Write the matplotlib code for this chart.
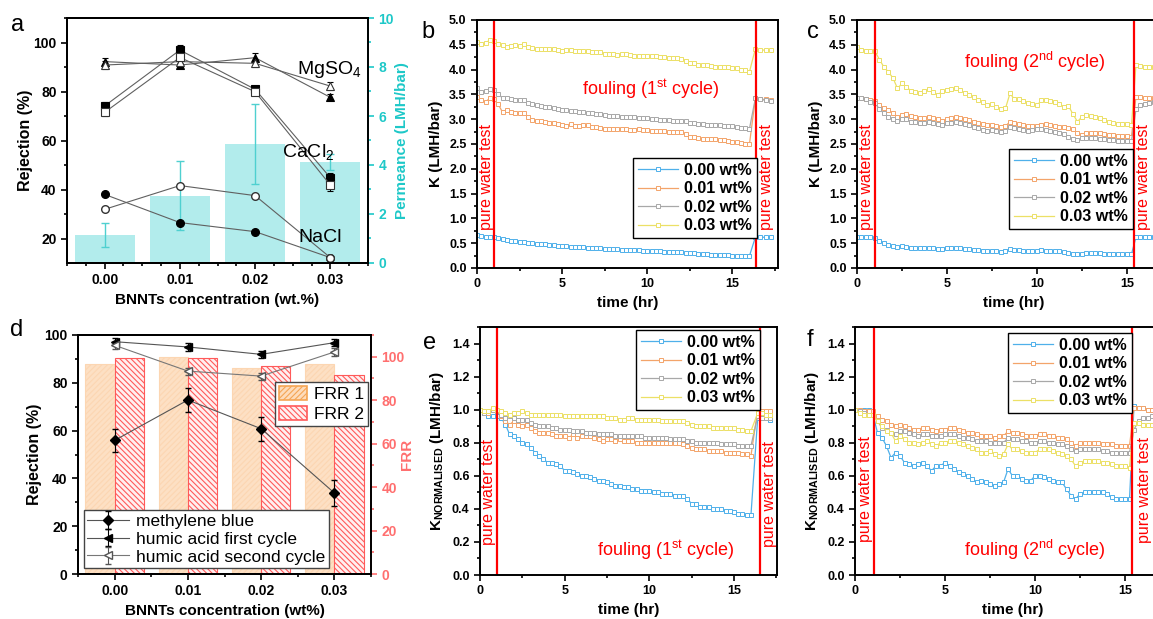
# BNNTs membrane figure: rejection / permeance and fouling curves (a-f)
import numpy as np
import matplotlib
matplotlib.use('Agg')
import matplotlib.pyplot as plt
from matplotlib.ticker import MultipleLocator, FormatStrFormatter
from matplotlib.transforms import blended_transform_factory
from matplotlib.patches import Patch

plt.rcParams['font.family'] = ['Liberation Sans', 'DejaVu Sans']
plt.rcParams['mathtext.fontset'] = 'custom'
plt.rcParams['mathtext.rm'] = 'Liberation Sans'
plt.rcParams['mathtext.bf'] = 'Liberation Sans:bold'
plt.rcParams['mathtext.it'] = 'Liberation Sans:italic'
plt.rcParams['hatch.linewidth'] = 0.8

# ---- panel a ----
conc = [0.00, 0.01, 0.02, 0.03]
conc_labels = ['0.00', '0.01', '0.02', '0.03']
permeance = [1.14, 2.75, 4.86, 4.13]
permeance_err = [0.49, 1.41, 1.65, 0.32]
mgso4_filled = [92.4, 91.0, 94.0, 77.8]
mgso4_filled_err = [1.5, 1.0, 1.8, 1.2]
mgso4_open = [91.0, 92.4, 91.7, 82.4]
mgso4_open_err = [1.5, 1.0, 1.5, 1.5]
cacl2_filled = [74.3, 97.1, 81.1, 45.0]
cacl2_filled_err = [1.8, 2.2, 1.5, 1.8]
cacl2_open = [71.7, 94.1, 80.1, 42.0]
cacl2_open_err = [1.5, 1.5, 1.5, 2.5]
nacl_filled = [38.2, 26.7, 23.0, 12.4]
nacl_open = [32.1, 41.8, 37.7, 12.4]

# ---- panel d ----
mb = [55.9, 72.8, 60.8, 33.9]
mb_err = [4.9, 4.9, 5.0, 5.6]
humic_first = [97.2, 95.0, 91.9, 96.8]
humic_second = [95.7, 84.9, 82.8, 92.9]
humic_err = [1.5, 1.5, 1.5, 1.5]
frr1 = [96.6, 99.7, 94.9, 96.6]
frr2 = [99.5, 99.5, 95.7, 91.8]

labels_wt = ['0.00 wt%', '0.01 wt%', '0.02 wt%', '0.03 wt%']
colors_wt = ['#4fb0ea', '#f3a46a', '#a8a8a8', '#ece066']

# ---- panel b: K (LMH/bar), 1st cycle, every 0.25 hr ----
b_blue = [0.66, 0.64, 0.63, 0.63, 0.62, 0.60, 0.58, 0.56, 0.55, 0.54,
          0.53, 0.52, 0.50, 0.50, 0.49, 0.49, 0.48, 0.47, 0.46, 0.45,
          0.44, 0.44, 0.43, 0.43, 0.42, 0.42, 0.41, 0.41, 0.40, 0.40,
          0.39, 0.39, 0.38, 0.38, 0.37, 0.37, 0.37, 0.36, 0.36, 0.35,
          0.35, 0.35, 0.34, 0.34, 0.33, 0.33, 0.33, 0.32, 0.32, 0.31,
          0.30, 0.30, 0.29, 0.28, 0.28, 0.27, 0.27, 0.27, 0.26, 0.26,
          0.25, 0.25, 0.25, 0.24, 0.24]
b_orange = [3.44, 3.38, 3.35, 3.42, 3.40, 3.30, 3.14, 3.18, 3.15, 3.12,
            3.12, 3.13, 3.05, 2.98, 2.97, 2.96, 2.95, 2.93, 2.93, 2.90,
            2.88, 2.87, 2.91, 2.86, 2.87, 2.88, 2.88, 2.85, 2.84, 2.83,
            2.80, 2.80, 2.80, 2.80, 2.81, 2.80, 2.79, 2.79, 2.80, 2.78,
            2.78, 2.77, 2.77, 2.77, 2.76, 2.75, 2.75, 2.75, 2.74, 2.70,
            2.65, 2.64, 2.62, 2.61, 2.61, 2.60, 2.60, 2.59, 2.58, 2.57,
            2.55, 2.54, 2.52, 2.51, 2.49]
b_gray = [3.62, 3.55, 3.57, 3.60, 3.58, 3.50, 3.43, 3.43, 3.41, 3.39,
          3.38, 3.38, 3.33, 3.30, 3.28, 3.26, 3.25, 3.24, 3.22, 3.21,
          3.18, 3.18, 3.17, 3.16, 3.15, 3.14, 3.13, 3.12, 3.11, 3.10,
          3.08, 3.07, 3.06, 3.06, 3.05, 3.05, 3.05, 3.04, 3.03, 3.02,
          3.02, 3.01, 3.00, 2.99, 2.98, 2.98, 2.97, 2.97, 2.97, 2.96,
          2.93, 2.92, 2.90, 2.90, 2.89, 2.89, 2.88, 2.88, 2.87, 2.87,
          2.86, 2.85, 2.82, 2.82, 2.80]
b_yellow = [4.55, 4.52, 4.53, 4.60, 4.58, 4.52, 4.50, 4.45, 4.48, 4.49,
            4.48, 4.52, 4.45, 4.43, 4.42, 4.41, 4.41, 4.41, 4.42, 4.40,
            4.37, 4.39, 4.40, 4.38, 4.38, 4.38, 4.37, 4.36, 4.35, 4.36,
            4.32, 4.31, 4.31, 4.30, 4.31, 4.31, 4.29, 4.28, 4.28, 4.28,
            4.27, 4.27, 4.27, 4.26, 4.25, 4.24, 4.24, 4.23, 4.22, 4.18,
            4.14, 4.13, 4.10, 4.09, 4.09, 4.07, 4.06, 4.06, 4.05, 4.05,
            4.04, 4.03, 3.99, 3.99, 3.95]
b_post_t = [16.35, 16.65, 16.95, 17.25]
b_post = [[0.62, 0.62, 0.62, 0.62], [3.42, 3.40, 3.40, 3.39],
          [3.42, 3.40, 3.38, 3.36], [4.42, 4.40, 4.39, 4.39]]

# ---- panel c: K (LMH/bar), 2nd cycle ----
c_blue = [0.62, 0.62, 0.62, 0.62, 0.60, 0.55, 0.50, 0.47, 0.44, 0.43,
          0.44, 0.43, 0.41, 0.40, 0.40, 0.41, 0.41, 0.40, 0.39, 0.39,
          0.40, 0.40, 0.41, 0.40, 0.39, 0.38, 0.37, 0.36, 0.35, 0.35,
          0.35, 0.34, 0.33, 0.35, 0.38, 0.37, 0.36, 0.35, 0.34, 0.34,
          0.35, 0.36, 0.35, 0.35, 0.34, 0.34, 0.33, 0.31, 0.29, 0.28,
          0.29, 0.30, 0.30, 0.30, 0.30, 0.29, 0.28, 0.28, 0.28, 0.28,
          0.28, 0.28]
c_orange = [3.42, 3.42, 3.40, 3.38, 3.37, 3.28, 3.22, 3.18, 3.12, 3.05,
            3.08, 3.10, 3.07, 3.05, 3.02, 3.02, 3.04, 3.03, 3.00, 2.97,
            3.00, 3.02, 3.05, 3.02, 3.00, 2.98, 2.95, 2.93, 2.90, 2.88,
            2.88, 2.86, 2.85, 2.86, 2.95, 2.92, 2.90, 2.88, 2.86, 2.86,
            2.87, 2.88, 2.90, 2.88, 2.86, 2.85, 2.84, 2.82, 2.80, 2.72,
            2.68, 2.73, 2.73, 2.72, 2.72, 2.70, 2.68, 2.68, 2.66, 2.66,
            2.66, 2.65]
c_gray = [3.42, 3.42, 3.40, 3.35, 3.33, 3.20, 3.12, 3.05, 3.00, 2.97,
          3.00, 3.00, 2.95, 2.94, 2.92, 2.93, 2.95, 2.93, 2.90, 2.88,
          2.92, 2.93, 2.95, 2.92, 2.90, 2.88, 2.85, 2.82, 2.78, 2.77,
          2.78, 2.76, 2.75, 2.77, 2.85, 2.82, 2.80, 2.78, 2.77, 2.78,
          2.80, 2.80, 2.78, 2.76, 2.75, 2.72, 2.70, 2.65, 2.60, 2.58,
          2.62, 2.63, 2.63, 2.62, 2.60, 2.60, 2.59, 2.58, 2.57, 2.57,
          2.56, 2.56]
c_yellow = [4.45, 4.40, 4.38, 4.38, 4.37, 4.20, 4.05, 3.95, 3.83, 3.62,
            3.72, 3.65, 3.57, 3.55, 3.52, 3.57, 3.60, 3.55, 3.49, 3.57,
            3.58, 3.60, 3.62, 3.59, 3.52, 3.48, 3.45, 3.38, 3.35, 3.28,
            3.30, 3.25, 3.20, 3.22, 3.52, 3.40, 3.40, 3.36, 3.32, 3.30,
            3.28, 3.38, 3.38, 3.37, 3.35, 3.30, 3.25, 3.27, 3.10, 2.95,
            3.05, 3.08, 3.06, 3.05, 3.02, 2.98, 2.95, 2.92, 2.91, 2.90,
            2.90, 2.88]
c_post_t = [15.5, 15.75, 16.0, 16.25, 16.5]
c_post = [[0.62, 0.62, 0.62, 0.62, 0.62], [3.45, 3.45, 3.43, 3.42, 3.42],
          [3.20, 3.28, 3.30, 3.32, 3.34], [4.10, 4.08, 4.06, 4.05, 4.05]]

# ---- panel e: normalised K, 1st cycle ----
e_blue = [1.00, 0.98, 0.96, 0.96, 0.96, 0.95, 0.91, 0.85, 0.84, 0.82,
          0.80, 0.79, 0.77, 0.74, 0.72, 0.70, 0.68, 0.68, 0.67, 0.66,
          0.63, 0.63, 0.62, 0.61, 0.60, 0.60, 0.59, 0.58, 0.57, 0.57,
          0.56, 0.55, 0.54, 0.54, 0.53, 0.53, 0.52, 0.52, 0.51, 0.51,
          0.51, 0.50, 0.50, 0.49, 0.49, 0.49, 0.48, 0.48, 0.48, 0.46,
          0.43, 0.43, 0.41, 0.41, 0.41, 0.40, 0.40, 0.40, 0.39, 0.39,
          0.38, 0.37, 0.37, 0.36, 0.36]
e_orange = [1.00, 0.99, 0.98, 1.00, 0.99, 0.96, 0.93, 0.91, 0.93, 0.91,
            0.90, 0.91, 0.89, 0.87, 0.86, 0.86, 0.86, 0.85, 0.84, 0.84,
            0.84, 0.83, 0.85, 0.83, 0.84, 0.84, 0.84, 0.83, 0.82, 0.81,
            0.82, 0.82, 0.81, 0.82, 0.81, 0.81, 0.81, 0.80, 0.80, 0.80,
            0.80, 0.80, 0.80, 0.80, 0.80, 0.80, 0.80, 0.80, 0.79, 0.78,
            0.77, 0.76, 0.76, 0.76, 0.75, 0.75, 0.75, 0.75, 0.74, 0.74,
            0.74, 0.74, 0.73, 0.73, 0.72]
e_gray = [1.00, 0.98, 0.99, 1.00, 0.99, 0.97, 0.95, 0.96, 0.95, 0.94,
          0.94, 0.94, 0.92, 0.91, 0.90, 0.90, 0.90, 0.89, 0.89, 0.88,
          0.88, 0.88, 0.87, 0.87, 0.87, 0.86, 0.86, 0.86, 0.85, 0.85,
          0.85, 0.85, 0.84, 0.84, 0.84, 0.84, 0.84, 0.84, 0.84, 0.83,
          0.83, 0.83, 0.83, 0.83, 0.83, 0.82, 0.82, 0.82, 0.82, 0.81,
          0.81, 0.80, 0.80, 0.80, 0.80, 0.80, 0.80, 0.79, 0.79, 0.79,
          0.79, 0.78, 0.78, 0.78, 0.78]
e_yellow = [1.00, 0.99, 0.99, 1.01, 1.00, 0.99, 0.98, 0.97, 0.98, 0.98,
            0.99, 0.98, 0.97, 0.97, 0.97, 0.97, 0.97, 0.97, 0.97, 0.97,
            0.96, 0.96, 0.96, 0.96, 0.96, 0.96, 0.96, 0.96, 0.96, 0.96,
            0.95, 0.95, 0.95, 0.94, 0.94, 0.95, 0.95, 0.94, 0.94, 0.94,
            0.94, 0.94, 0.94, 0.93, 0.93, 0.93, 0.93, 0.93, 0.93, 0.92,
            0.91, 0.90, 0.90, 0.90, 0.90, 0.89, 0.89, 0.89, 0.89, 0.89,
            0.89, 0.88, 0.88, 0.87, 0.87]
e_post_t = [16.4, 16.65, 16.9, 17.15]
e_post = [[0.95, 0.96, 0.95, 0.94], [1.00, 0.99, 0.99, 0.99],
          [0.96, 0.95, 0.95, 0.95], [0.98, 0.98, 0.97, 0.97]]

# ---- panel f: normalised K, 2nd cycle ----
f_blue = [1.00, 0.99, 1.00, 1.00, 0.97, 0.86, 0.83, 0.78, 0.71, 0.74,
          0.72, 0.68, 0.67, 0.66, 0.67, 0.68, 0.66, 0.63, 0.66, 0.66,
          0.68, 0.66, 0.64, 0.62, 0.61, 0.60, 0.58, 0.56, 0.57, 0.56,
          0.55, 0.54, 0.55, 0.56, 0.64, 0.60, 0.60, 0.58, 0.57, 0.57,
          0.60, 0.60, 0.59, 0.58, 0.57, 0.56, 0.56, 0.52, 0.48, 0.46,
          0.49, 0.50, 0.50, 0.50, 0.50, 0.50, 0.49, 0.47, 0.46, 0.46,
          0.46, 0.46]
f_orange = [1.00, 1.00, 0.99, 0.99, 0.99, 0.96, 0.94, 0.93, 0.91, 0.90,
            0.91, 0.90, 0.89, 0.88, 0.88, 0.89, 0.89, 0.88, 0.87, 0.88,
            0.88, 0.89, 0.89, 0.88, 0.87, 0.86, 0.86, 0.85, 0.84, 0.84,
            0.84, 0.83, 0.84, 0.84, 0.87, 0.86, 0.86, 0.85, 0.84, 0.84,
            0.84, 0.85, 0.85, 0.84, 0.84, 0.83, 0.83, 0.82, 0.80, 0.78,
            0.80, 0.80, 0.80, 0.80, 0.80, 0.79, 0.79, 0.79, 0.78, 0.78,
            0.78, 0.78]
f_gray = [1.00, 0.99, 0.98, 0.97, 0.97, 0.93, 0.89, 0.88, 0.86, 0.85,
          0.87, 0.87, 0.86, 0.85, 0.84, 0.85, 0.85, 0.84, 0.84, 0.84,
          0.85, 0.85, 0.85, 0.84, 0.83, 0.83, 0.82, 0.81, 0.81, 0.81,
          0.80, 0.80, 0.80, 0.80, 0.83, 0.82, 0.82, 0.81, 0.81, 0.80,
          0.80, 0.81, 0.81, 0.80, 0.80, 0.79, 0.79, 0.78, 0.76, 0.75,
          0.76, 0.76, 0.76, 0.76, 0.76, 0.75, 0.75, 0.74, 0.74, 0.74,
          0.74, 0.74]
f_yellow = [1.00, 0.98, 0.97, 0.97, 0.97, 0.93, 0.90, 0.87, 0.86, 0.81,
            0.84, 0.82, 0.80, 0.80, 0.79, 0.80, 0.81, 0.79, 0.78, 0.80,
            0.80, 0.81, 0.81, 0.80, 0.79, 0.78, 0.77, 0.76, 0.74, 0.74,
            0.75, 0.73, 0.72, 0.73, 0.79, 0.76, 0.76, 0.75, 0.74, 0.74,
            0.74, 0.76, 0.76, 0.76, 0.75, 0.74, 0.73, 0.72, 0.70, 0.66,
            0.68, 0.69, 0.69, 0.69, 0.69, 0.68, 0.68, 0.67, 0.66, 0.66,
            0.66, 0.65]
f_post_t = [15.5, 15.75, 16.0, 16.25, 16.5]
f_post = [[1.02, 1.01, 1.01, 1.00, 1.00], [1.01, 1.01, 1.01, 1.00, 1.00],
          [0.88, 0.93, 0.95, 0.95, 0.96], [0.92, 0.92, 0.91, 0.91, 0.91]]

W, H = 1153, 619
fig = plt.figure(figsize=(W / 100, H / 100), dpi=100)


def add_ax(l, t, r, b):
    # axes from pixel box (left, top, right, bottom)
    return fig.add_axes([l / W, 1 - b / H, (r - l) / W, (b - t) / H])


def style(ax, size, right=False):
    for side in ['top', 'right', 'left', 'bottom']:
        ax.spines[side].set_linewidth(1.4)
    ax.tick_params(which='both', direction='out', labelsize=size, width=1.2,
                   top=False, right=right)
    ax.tick_params(which='major', length=4)
    ax.tick_params(which='minor', length=2.5)
    for lab in ax.get_xticklabels() + ax.get_yticklabels():
        lab.set_fontweight('bold')


# ================= a =================
ax = add_ax(67, 18, 368, 263)
ax2 = ax.twinx()
cyan = '#1ec8c8'
ax2.bar(conc, permeance, width=0.008, color='#b2ecec', yerr=permeance_err,
        ecolor='#4fd0d0', capsize=3, error_kw=dict(elinewidth=1, capthick=1))
ax2.set_ylim(0, 10)
ax2.yaxis.set_major_locator(MultipleLocator(2))
ax2.yaxis.set_minor_locator(MultipleLocator(1))
ax2.set_ylabel('Permeance (LMH/bar)', color=cyan, fontsize=11, fontweight='bold',
               labelpad=1)
ax.set_zorder(ax2.get_zorder() + 1)
ax.patch.set_visible(False)

line_kw = dict(color='#606060', lw=0.8, ms=5.5, ecolor='k', elinewidth=0.8,
               capsize=2, mew=0.8)
ax.errorbar(conc, mgso4_filled, yerr=mgso4_filled_err, marker='^', mfc='k', mec='k', **line_kw)
ax.errorbar(conc, mgso4_open, yerr=mgso4_open_err, marker='^', mfc='white', mec='#333333', **line_kw)
ax.errorbar(conc, cacl2_filled, yerr=cacl2_filled_err, marker='s', mfc='k', mec='k', **line_kw)
ax.errorbar(conc, cacl2_open, yerr=cacl2_open_err, marker='s', mfc='white', mec='#333333', **line_kw)
ax.plot(conc, nacl_filled, color='#606060', lw=0.8, marker='o', ms=5.5, mfc='k', mec='k')
ax.plot(conc, nacl_open, color='#606060', lw=0.8, marker='o', ms=5.5, mfc='white', mec='#333333')
ax.text(0.0299, 89, 'MgSO$_4$', fontsize=14, ha='center', va='center')
ax.text(0.0271, 55.5, 'CaCl$_2$', fontsize=14, ha='center', va='center')
ax.text(0.0287, 20.5, 'NaCl', fontsize=14, ha='center', va='center')
ax.set_xlim(-0.005, 0.035)
ax.set_ylim(10.2, 110.2)
ax.set_xticks(conc)
ax.set_xticklabels(conc_labels)
ax.xaxis.set_minor_locator(MultipleLocator(0.0025))
ax.yaxis.set_major_locator(MultipleLocator(20))
ax.yaxis.set_minor_locator(MultipleLocator(10))
ax.set_ylabel('Rejection (%)', fontsize=11.5, fontweight='bold', labelpad=0)
ax.set_xlabel('BNNTs concentration (wt.%)', fontsize=11, fontweight='bold')
style(ax, 10)
style(ax2, 10, right=True)
ax2.tick_params(axis='y', colors=cyan, which='both')
ax2.spines['right'].set_color(cyan)

# ================= d =================
axd = add_ax(78, 335, 371, 574)
axd2 = axd.twinx()
pink = '#ff6f6f'
axd2.bar(conc, frr1, width=-0.004, align='edge', facecolor='#fde0c4',
         edgecolor='#fcd6b2', hatch='//////', lw=0.8)
axd2.bar(conc, frr2, width=0.004, align='edge', facecolor='#fff0f0',
         edgecolor='#ff5a5a', hatch='\\\\\\\\\\\\', lw=0.8)
axd2.set_ylim(0, 110)
axd2.yaxis.set_major_locator(MultipleLocator(20))
axd2.yaxis.set_minor_locator(MultipleLocator(10))
axd2.set_ylabel('FRR', color=pink, fontsize=11, fontweight='bold', labelpad=-3)
frr_handles = [Patch(facecolor='#fddcbc', edgecolor='#f5a554', hatch='//////', lw=1.2),
               Patch(facecolor='#fff0f0', edgecolor='#ff5a5a', hatch='\\\\\\\\\\\\', lw=1.2)]
axd2.legend(frr_handles, ['FRR 1', 'FRR 2'], loc='upper left',
            bbox_to_anchor=(0.672, 0.803), fontsize=12.5,
            frameon=True, fancybox=False, edgecolor='#444444', framealpha=1,
            handlelength=1.6, handleheight=0.8, borderpad=0.25,
            labelspacing=0.25, handletextpad=0.4, borderaxespad=0)
axd.set_zorder(axd2.get_zorder() + 1)
axd.patch.set_visible(False)

axd.errorbar(conc, mb, yerr=mb_err, color='#555555', lw=0.8, marker='D', ms=5,
             mfc='k', mec='k', ecolor='k', elinewidth=0.8, capsize=2,
             label='methylene blue')
axd.errorbar(conc, humic_first, yerr=humic_err, color='#555555', lw=0.8, marker='<',
             ms=6, mfc='k', mec='k', ecolor='k', elinewidth=0.8, capsize=2,
             label='humic acid first cycle')
axd.errorbar(conc, humic_second, yerr=humic_err, color='#777777', lw=0.8, marker='<',
             ms=6, mfc='white', mec='#555555', ecolor='#555555', elinewidth=0.8,
             capsize=2, label='humic acid second cycle')
axd.legend(loc='lower left', bbox_to_anchor=(0.02, 0.025), fontsize=12.5,
           frameon=True, fancybox=False, edgecolor='#444444', framealpha=1,
           handlelength=2.4, borderpad=0.2, labelspacing=0.15, handletextpad=0.4,
           borderaxespad=0)
axd.set_xlim(-0.005, 0.035)
axd.set_ylim(0, 100)
axd.set_xticks(conc)
axd.set_xticklabels(conc_labels)
axd.xaxis.set_minor_locator(MultipleLocator(0.005))
axd.yaxis.set_major_locator(MultipleLocator(20))
axd.yaxis.set_minor_locator(MultipleLocator(10))
axd.set_ylabel('Rejection (%)', fontsize=11.5, fontweight='bold', labelpad=2)
axd.set_xlabel('BNNTs concentration (wt%)', fontsize=11, fontweight='bold')
style(axd, 10)
style(axd2, 10, right=True)
axd2.tick_params(axis='y', colors=pink, which='both')
axd2.spines['right'].set_color(pink)


# ================= b, c, e, f =================
def k_panel(ax, pre, post_t, post, xmax, ymax, ymajor, vlines, fouling,
            fxy, pwt, leg_xy, ylabel):
    for vals, pv, col, lab in zip(pre, post, colors_wt, labels_wt):
        t = list(np.arange(len(vals)) * 0.25) + list(post_t)
        y = list(vals) + list(pv)
        ax.plot(t, y, color=col, lw=0.9, marker='s', ms=2.8, mfc='white',
                mec=col, mew=0.7, label=lab)
    for xv in vlines:
        ax.axvline(xv, color='#ff0000', lw=1.6)
    ax.text(fxy[0], fxy[1], fouling, color='#ff0000', fontsize=13,
            ha='center', va='center')
    trans = blended_transform_factory(ax.transData, ax.transAxes)
    for xv, yb in pwt:
        ax.text(xv, yb, 'pure water test', color='#ff0000', fontsize=11.5,
                rotation=90, ha='center', va='bottom', transform=trans)
    ax.legend(loc='upper left', bbox_to_anchor=leg_xy, frameon=True,
              fancybox=False, edgecolor='black', framealpha=1,
              prop=dict(weight='bold', size=11.5), handlelength=2.5,
              labelspacing=0.22, borderpad=0.3, handletextpad=0.4,
              borderaxespad=0).get_frame().set_linewidth(1.0)
    ax.set_xlim(0, xmax)
    ax.set_ylim(0, ymax)
    ax.xaxis.set_major_locator(MultipleLocator(5))
    ax.xaxis.set_minor_locator(MultipleLocator(2.5))
    ax.yaxis.set_major_locator(MultipleLocator(ymajor))
    ax.yaxis.set_minor_locator(MultipleLocator(ymajor / 2))
    ax.yaxis.set_major_formatter(FormatStrFormatter('%.1f'))
    ax.set_xlabel('time (hr)', fontsize=11, fontweight='bold')
    ax.set_ylabel(ylabel, fontsize=11, fontweight='bold')
    style(ax, 9)


axb = add_ax(477, 20, 778, 268)
k_panel(axb, [b_blue, b_orange, b_gray, b_yellow], b_post_t, b_post, 17.68, 5.0, 0.5,
        [1.0, 16.37], r'fouling (1$^{\rm st}$ cycle)', (10.2, 3.6),
        [(0.55, 0.153), (16.98, 0.153)], (0.518, 0.444), 'K (LMH/bar)')

axc = add_ax(857, 20, 1170, 268)
k_panel(axc, [c_blue, c_orange, c_gray, c_yellow], c_post_t, c_post, 17.39, 5.0, 0.5,
        [1.0, 15.38], r'fouling (2$^{\rm nd}$ cycle)', (9.9, 4.15),
        [(0.54, 0.153), (15.92, 0.153)], (0.486, 0.48), 'K (LMH/bar)')

kn_label = r'K$_{\mathbf{NORMALISED}}$ (LMH/bar)'
axe = add_ax(480, 327, 777, 575)
k_panel(axe, [e_blue, e_orange, e_gray, e_yellow], e_post_t, e_post, 17.54, 1.5, 0.2,
        [0.98, 16.54], r'fouling (1$^{\rm st}$ cycle)', (10.94, 0.15),
        [(0.49, 0.121), (17.08, 0.113)], (0.525, 0.988), kn_label)

axf = add_ax(855, 327, 1170, 575)
k_panel(axf, [f_blue, f_orange, f_gray, f_yellow], f_post_t, f_post, 17.5, 1.5, 0.2,
        [1.03, 15.4], r'fouling (2$^{\rm nd}$ cycle)', (9.98, 0.15),
        [(0.6, 0.133), (16.1, 0.129)], (0.486, 0.976), kn_label)

# panel letters
for letter, (x, y) in zip('abcdef', [(18, 25), (428, 32), (813, 32),
                                     (17, 330), (430, 343), (810, 340)]):
    fig.text(x / W, 1 - y / H, letter, fontsize=17, ha='center', va='center')

fig.savefig('out.png', dpi=100)
